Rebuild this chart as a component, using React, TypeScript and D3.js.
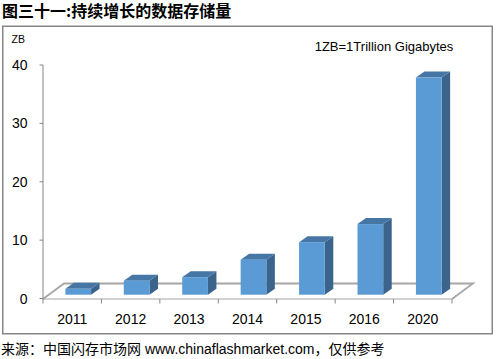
import React from "react";
import * as d3 from "d3";

const categories = ["2011", "2012", "2013", "2014", "2015", "2016", "2020"];
const values = [1.0, 2.4, 3.0, 6.0, 9.0, 12.1, 37.2];
const yTicks = [0, 10, 20, 30, 40];
const title = "图三十一:持续增长的数据存储量";
const unitLabel = "ZB";
const note = "1ZB=1Trillion Gigabytes";
const source = "来源：中国闪存市场网 www.chinaflashmarket.com，仅供参考";

const W = 497;
const H = 359;

export default function App() {
  const x0 = 43, x1 = 452;
  const floorY = 299;
  const floorDx = 21, floorDy = -15.5;
  const frontDx = 6, frontDy = -3.8;
  const depthDx = 8.5, depthDy = -6;

  const x = d3.scaleBand<string>().domain(categories).range([x0, x1]).paddingInner(0.56).paddingOuter(0.28);
  const y = d3.scaleLinear().domain([0, 40]).range([298.5, 65]);
  const step = x.step();
  const bw = x.bandwidth();
  const boundaries = d3.range(categories.length + 1).map((i) => x0 + i * step);

  const font = "'Liberation Sans', Arial, sans-serif";
  const cjk = "'Noto Sans CJK SC', sans-serif";
  const mixed = "'Liberation Sans', 'Noto Sans CJK SC', sans-serif";

  return (
    <svg width={W} height={H} style={{ position: "absolute", left: 0, top: 0, background: "#fff" }}>
      <text x={2} y={16.5} fontFamily={cjk} fontWeight="bold" fontSize={16} fill="#000">{title}</text>
      <rect x={2.75} y={26.25} width={489.5} height={307.5} fill="#fff" stroke="#878787" strokeWidth={1.5} />
      <text x={11.5} y={42.5} fontFamily={font} fontSize={10.5} fill="#000">{unitLabel}</text>
      <text x={384} y={50.5} fontFamily={font} fontSize={13} textAnchor="middle" fill="#000">{note}</text>

      {/* floor */}
      <path
        d={`M${x0},${floorY} L${x0 + floorDx},${floorY + floorDy} L${x1 + floorDx},${floorY + floorDy} L${x1},${floorY}`}
        fill="none" stroke="#a6a6a6" strokeWidth={1.8}
      />
      <line x1={x0} x2={x1} y1={floorY} y2={floorY} stroke="#a6a6a6" strokeWidth={1.2} />

      {/* y axis */}
      <line x1={x0} x2={x0} y1={y(40)} y2={floorY} stroke="#868686" strokeWidth={1} />
      {yTicks.map((t) => (
        <g key={t}>
          <line x1={x0 - 3.5} x2={x0} y1={y(t)} y2={y(t)} stroke="#868686" strokeWidth={1} />
          <text x={27.5} y={y(t)} dy="0.36em" textAnchor="end" fontFamily={font} fontSize={14} fill="#000">{t}</text>
        </g>
      ))}

      {/* x axis ticks */}
      {boundaries.map((b, i) => (
        <line key={i} x1={b} x2={b} y1={floorY} y2={floorY + 4.5} stroke="#868686" strokeWidth={1} />
      ))}
      {categories.map((c) => (
        <text key={c} x={(x(c) as number) + bw / 2} y={323.5} textAnchor="middle" fontFamily={font} fontSize={14} fill="#000">{c}</text>
      ))}

      {/* bars */}
      {categories.map((c, i) => {
        const bx = (x(c) as number) + frontDx;
        const base = y(0) + frontDy;
        const top = y(values[i]) + frontDy;
        return (
          <g key={c}>
            <polygon
              points={`${bx + bw},${top} ${bx + bw + depthDx},${top + depthDy} ${bx + bw + depthDx},${base + depthDy} ${bx + bw},${base}`}
              fill="#3a648c"
            />
            <polygon
              points={`${bx},${top} ${bx + bw},${top} ${bx + bw + depthDx},${top + depthDy} ${bx + depthDx},${top + depthDy}`}
              fill="#4576a6"
            />
            <rect x={bx} y={top} width={bw} height={base - top} fill="#5b9bd5" />
          </g>
        );
      })}

      <text x={1} y={354} fontFamily={mixed} fontSize={14} fill="#000">{source}</text>
    </svg>
  );
}
